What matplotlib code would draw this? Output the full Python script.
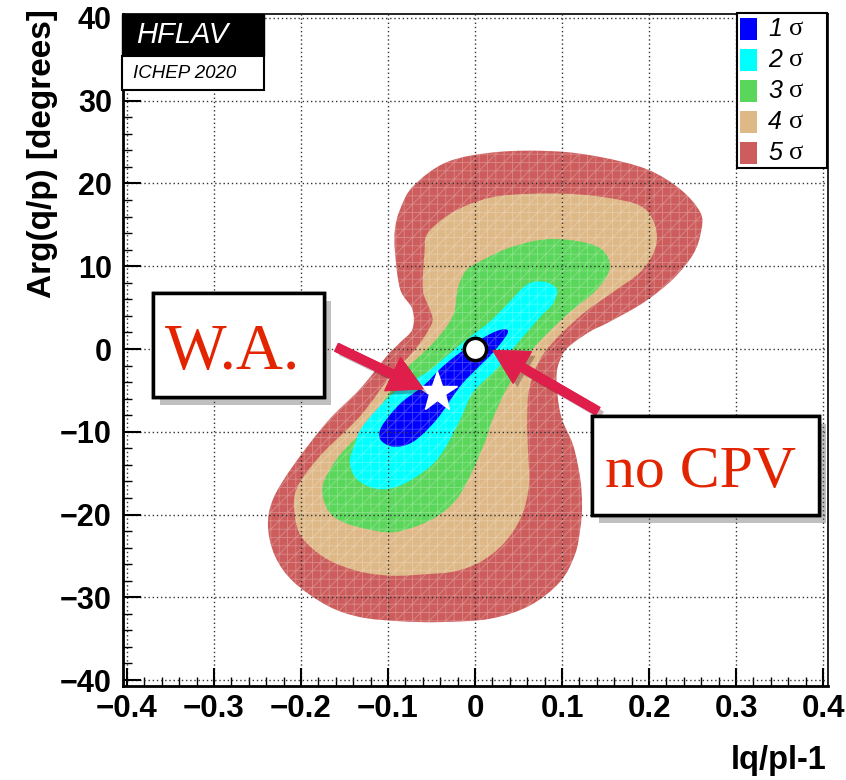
import numpy as np
import matplotlib
matplotlib.use('Agg')
from matplotlib import pyplot as plt
from matplotlib import patheffects as pe
from matplotlib.patches import PathPatch, Rectangle, FancyArrowPatch
from matplotlib.path import Path
from matplotlib.ticker import MultipleLocator, FixedLocator, FuncFormatter

W, H = 846, 780

# contours : x = |q/p|-1, y = Arg(q/p) en degres
sig5_x = [0.025, 0.090, 0.144, 0.198, 0.236, 0.259, 0.260, 0.251, 0.228, 0.195, 0.155, 0.132, 0.109, 0.100, 0.094,
          0.095, 0.100, 0.113, 0.121, 0.123, 0.121, 0.115, 0.098, 0.063, 0.017, -0.040, -0.086, -0.132, -0.170, -0.209,
          -0.230, -0.238, -0.232, -0.209, -0.170, -0.132, -0.101, -0.086, -0.072, -0.072, -0.086, -0.092, -0.092,
          -0.086, -0.071, -0.032]
sig5_y = [23.8, 23.9, 23.2, 21.7, 19.3, 16.5, 14.3, 11.5, 8.5, 5.7, 3.3, 2.1, 0.4, -0.8, -2.8,
          -5.7, -8.5, -11.7, -15.7, -19.0, -21.7, -24.8, -28.1, -31.0, -32.6, -33.0, -32.9, -32.4, -31.0, -28.1,
          -25.0, -21.4, -18.1, -14.1, -8.8, -4.8, -0.8, 0.8, 2.4, 4.8, 7.2, 11.7, 14.5,
          16.9, 19.7, 22.6]

sig4_x = [0.029, 0.090, 0.144, 0.190, 0.207, 0.207, 0.190, 0.159, 0.121, 0.080, 0.063, 0.060, 0.061, 0.062, 0.053,
          0.033, 0.005, -0.025, -0.055, -0.094, -0.132, -0.170, -0.198, -0.207, -0.205, -0.178, -0.132, -0.094,
          -0.075, -0.060, -0.049, -0.052, -0.060, -0.058, -0.055, -0.032, -0.006]
sig4_y = [18.5, 18.8, 18.4, 17.3, 14.9, 12.1, 9.3, 6.9, 4.0, -0.4, -4.5, -8.5, -12.5, -16.5, -20.3,
          -23.5, -25.8, -26.9, -27.2, -27.4, -26.9, -25.4, -22.9, -20.2, -16.9, -12.9, -8.1, -2.8,
          -0.8, 1.2, 3.3, 4.8, 7.2, 11.7, 13.9, 16.1, 17.5]

sig3_x = [0.006, 0.044, 0.090, 0.140, 0.155, 0.140, 0.103, 0.063, 0.038, 0.020, 0.014, -0.002, -0.021, -0.048,
          -0.086, -0.113, -0.152, -0.170, -0.175, -0.159, -0.141, -0.123, -0.103, -0.083, -0.063, -0.044, -0.029,
          -0.023, -0.020, -0.011]
sig3_y = [10.6, 12.4, 13.3, 12.4, 10.0, 7.2, 3.9, -0.4, -4.5, -8.5, -10.5, -14.5, -18.1, -20.5,
          -22.0, -22.0, -20.9, -19.3, -16.5, -13.3, -11.2, -9.3, -6.0, -2.8, -0.8, 1.2, 3.3,
          4.8, 7.2, 9.4]

sig2_x = [0.060, 0.080, 0.094, 0.089, 0.075, 0.040, 0.025, -0.002, -0.017, -0.037, -0.055, -0.086, -0.113, -0.136,
          -0.144, -0.138, -0.129, -0.098, -0.075, -0.055, -0.032, -0.009, 0.017, 0.037]
sig2_y = [7.8, 8.1, 7.2, 5.4, 3.9, -0.4, -2.4, -5.2, -8.5, -12.4, -14.5, -16.5, -16.9, -15.7,
          -13.6, -11.5, -9.3, -5.7, -4.0, -2.8, -0.8, 1.2, 3.3, 5.4]

sig1_x = [0.034, 0.037, 0.021, 0.002, -0.017, -0.044, -0.071, -0.094, -0.109, -0.107, -0.086, -0.060, -0.037,
          -0.014, 0.017]
sig1_y = [2.4, 1.8, -0.4, -2.4, -4.5, -8.5, -11.2, -11.8, -10.9, -9.3, -6.6, -4.5, -2.1,
          -0.2, 1.8]

contours = [(sig5_x, sig5_y), (sig4_x, sig4_y), (sig3_x, sig3_y), (sig2_x, sig2_y), (sig1_x, sig1_y)]
couleurs = ['#cd5c5c', '#deb887', '#5ad65a', '#00ffff', '#0000ff']  # 5 sigma -> 1 sigma
leg_labels = ['1', '2', '3', '4', '5']
leg_couleurs = ['#0000ff', '#00ffff', '#5ad65a', '#deb887', '#cd5c5c']

wa_pt = (-0.044, -5.2)      # moyenne mondiale
nocpv_pt = (0.0, 0.0)       # pas de violation de CP

xticks = [-0.4, -0.3, -0.2, -0.1, 0.0, 0.1, 0.2, 0.3, 0.4]
yticks = [-40, -30, -20, -10, 0, 10, 20, 30, 40]

ROUGE = '#e32400'
FLECHE = '#e01e4b'


def fx(px):
    return px / W


def fy(py):
    return 1 - py / H


# chemin ferme lisse (courbes de Bezier passant par les points du contour)
def cheminLisse(xs, ys):
    p = np.column_stack([xs, ys])
    n = len(p)
    verts = [p[0]]
    codes = [Path.MOVETO]
    for i in range(n):
        p0, p1, p2, p3 = p[i - 1], p[i], p[(i + 1) % n], p[(i + 2) % n]
        verts += [p1 + (p2 - p0) / 6, p2 - (p3 - p1) / 6, p2]
        codes += [Path.CURVE4] * 3
    verts.append(p[0])
    codes.append(Path.CLOSEPOLY)
    return Path(verts, codes)


plt.rcParams['hatch.linewidth'] = 0.6
fig = plt.figure(figsize=(W / 100, H / 100), dpi=100)
ax = fig.add_axes([fx(123), fy(686), (828 - 123) / W, (686 - 14) / H])
ax.set_xlim(-0.4046, 0.4057)
ax.set_ylim(-40.72, 40.48)

# contours remplis, du plus grand au plus petit
for (xs, ys), c in zip(contours, couleurs):
    ax.add_patch(PathPatch(cheminLisse(xs, ys), fc=c, ec='none', zorder=1))
# motif de maillage blanc
ax.add_patch(PathPatch(cheminLisse(*contours[0]), fc='none', ec=(1, 1, 1, 0.28),
                       lw=0, hatch='++//', zorder=1.2))

ax.set_axisbelow(False)
ax.grid(True, which='major', ls=(0, (1, 2)), color='#333333', lw=1)

ax.xaxis.set_major_locator(FixedLocator(xticks))
ax.yaxis.set_major_locator(FixedLocator(yticks))
ax.xaxis.set_minor_locator(MultipleLocator(0.02))
ax.yaxis.set_minor_locator(MultipleLocator(2))
fmt = FuncFormatter(lambda v, p: ('%g' % round(v, 3)).replace('-', '\u2212'))
ax.xaxis.set_major_formatter(fmt)
ax.yaxis.set_major_formatter(fmt)
ax.tick_params(which='both', direction='in', top=False, right=False)
ax.tick_params(which='major', length=13, width=1.5)
ax.tick_params(which='minor', length=6.5, width=1)
ax.tick_params(axis='y', pad=8)
ax.tick_params(axis='x', pad=6)
for lab in ax.get_yticklabels():
    lab.set_family(['Liberation Sans', 'DejaVu Sans'])
    lab.set_weight('bold')
    lab.set_size(22)
for lab in ax.get_xticklabels():
    lab.set_family(['Liberation Sans', 'DejaVu Sans'])
    lab.set_weight('bold')
    lab.set_size(22.5)
for s in ['left', 'bottom']:
    ax.spines[s].set_linewidth(2)
for s in ['top', 'right']:
    ax.spines[s].set_linewidth(1.2)

# points
ax.plot(*nocpv_pt, 'o', ms=16, mfc='white', mec='black', mew=2.5, zorder=8)
ax.plot(*wa_pt, '*', ms=30, mfc='white', mec='white', zorder=8)

# fleches
ombre = [pe.withSimplePatchShadow(offset=(3, -3), alpha=0.3), pe.Normal()]
for tail, tip in [((-0.159, 0.2), (-0.060, -4.8)), ((0.141, -7.5), (0.021, -0.2))]:
    fl = FancyArrowPatch(tail, tip, arrowstyle='simple,head_length=24,head_width=26,tail_width=6',
                         mutation_scale=1, color=FLECHE, shrinkA=0, shrinkB=0, zorder=9)
    fl.set_path_effects(ombre)
    ax.add_patch(fl)

# boites W.A. et no CPV
ombre_b = [pe.withSimplePatchShadow(offset=(5, -6), alpha=0.35), pe.Normal()]
for x0, x1, y0, y1 in [(-0.370, -0.1736, -5.8, 6.76), (0.1345, 0.3954, -20.05, -8.09)]:
    r = Rectangle((x0, y0), x1 - x0, y1 - y0, fc='white', ec='black', lw=2.5, zorder=10)
    r.set_path_effects(ombre_b)
    ax.add_patch(r)
ax.text(-0.356, -2.4, 'W.A.', color=ROUGE, fontsize=47, family=['Liberation Serif', 'DejaVu Serif'],
        ha='left', va='baseline', zorder=11)
ax.text(0.1494, -16.67, 'no CPV', color=ROUGE, fontsize=43, family=['Liberation Serif', 'DejaVu Serif'],
        ha='left', va='baseline', zorder=11)

# titres des axes
fig.text(fx(42), fy(9), 'Arg(q/p) [degrees]', rotation=90, ha='center', va='top', fontsize=24,
         fontweight='bold', family=['Liberation Sans', 'DejaVu Sans'])
fig.text(fx(826), fy(776), 'lq/pl-1', ha='right', va='bottom', fontsize=23.5, fontweight='bold',
         family=['Liberation Sans', 'DejaVu Sans'])

# logo HFLAV
fig.add_artist(Rectangle((fx(122), fy(56)), (264 - 122) / W, 42 / H, transform=fig.transFigure,
                         fc='black', ec='black', lw=1, zorder=5))
fig.add_artist(Rectangle((fx(122), fy(90)), (264 - 122) / W, 34 / H, transform=fig.transFigure,
                         fc='white', ec='black', lw=1.5, zorder=5))
fig.text(fx(136), fy(35), 'HFLAV', color='white', fontsize=21, style='italic', va='center', ha='left',
         family=['Liberation Sans', 'DejaVu Sans'], zorder=6)
fig.text(fx(133), fy(73), 'ICHEP 2020', color='black', fontsize=13.5, style='italic', va='center', ha='left',
         family=['Liberation Sans', 'DejaVu Sans'], zorder=6)

# legende
fig.add_artist(Rectangle((fx(737), fy(168)), 90 / W, 155 / H, transform=fig.transFigure,
                         fc='white', ec='black', lw=1.5, zorder=5))
for i, (lab, c) in enumerate(zip(leg_labels, leg_couleurs)):
    top = 18 + 31 * i
    fig.add_artist(Rectangle((fx(740), fy(top + 22)), 17 / W, 22 / H, transform=fig.transFigure,
                             fc=c, ec='none', zorder=6))
    fig.text(fx(768), fy(top + 11), lab, fontsize=18, style='italic', va='center', ha='left',
             family=['Liberation Sans', 'DejaVu Sans'], zorder=7)
    fig.text(fx(789), fy(top + 11), '\u03c3', fontsize=19, va='center', ha='left',
             family=['Liberation Serif', 'DejaVu Serif'], zorder=7)

fig.savefig('out.png', dpi=100)
